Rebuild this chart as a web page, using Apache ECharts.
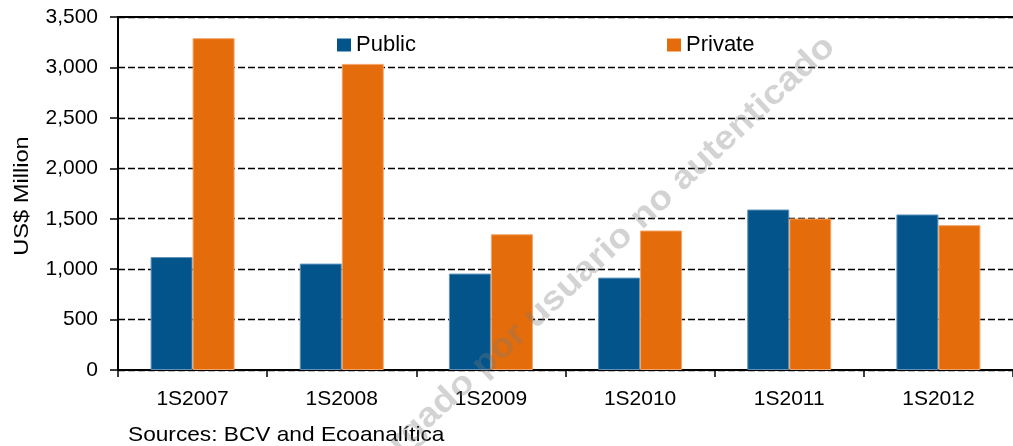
<!DOCTYPE html>
<html>
<head>
<meta charset="utf-8">
<script src="https://cdn.jsdelivr.net/npm/echarts@6/dist/echarts.min.js"></script>
<style>html,body{margin:0;padding:0;background:#fff;}#c{width:1013px;height:446px;}</style>
</head>
<body>
<div id="c"></div>
<script>
const categories = ['1S2007', '1S2008', '1S2009', '1S2010', '1S2011', '1S2012'];
const publicValues = [1120, 1055, 956, 916, 1591, 1542];
const privateValues = [3290, 3035, 1346, 1383, 1502, 1436];
const seriesNames = ['Public', 'Private'];
const yAxisTitle = 'US$ Million';
const sourceText = 'Sources: BCV and Ecoanalítica';
const watermarkText = 'descargado por usuario no autenticado';

const FONT = 'Liberation Sans, Arial, sans-serif';
const chart = echarts.init(document.getElementById('c'), null, {renderer: 'canvas'});
chart.setOption({
  animation: false,
  backgroundColor: '#fff',
  grid: {left: 118, right: 0, top: 17, bottom: 76},
  legend: [
    {data: [seriesNames[0]], left: 332, top: 29, itemWidth: 14, itemHeight: 13, icon: 'rect',
     itemStyle: {borderWidth: 0},
     textStyle: {fontFamily: FONT, fontSize: 22, color: '#000'}},
    {data: [seriesNames[1]], left: 662, top: 29, itemWidth: 14, itemHeight: 13, icon: 'rect',
     itemStyle: {borderWidth: 0},
     textStyle: {fontFamily: FONT, fontSize: 22, color: '#000'}}
  ],
  xAxis: [{
    type: 'category',
    data: categories,
    axisLine: {lineStyle: {color: '#000', width: 2}},
    axisTick: {show: true, length: 7, lineStyle: {color: '#000', width: 1.5}},
    axisLabel: {fontFamily: FONT, fontSize: 21, color: '#000', margin: 19}
  }, {
    type: 'category',
    data: categories,
    position: 'top',
    axisLine: {show: true, lineStyle: {color: '#000', width: 2}},
    axisTick: {show: false},
    axisLabel: {show: false}
  }],
  yAxis: {
    type: 'value',
    min: 0, max: 3500, interval: 500,
    axisLine: {show: true, lineStyle: {color: '#000', width: 2}},
    axisTick: {show: true, length: 8, lineStyle: {color: '#000', width: 1.5}},
    axisLabel: {fontFamily: FONT, fontSize: 21, color: '#000', margin: 20,
      formatter: v => v.toLocaleString('en-US')},
    splitLine: {show: true, lineStyle: {color: '#000', type: [7, 3], width: 1.3}}
  },
  graphic: [
    {type: 'text', z: 100, x: 830, y: 42, rotation: 43 * Math.PI / 180, scaleX: 1.1,
     style: {text: watermarkText, fontFamily: FONT, fontWeight: 'bold', fontSize: 34,
       fill: 'rgba(120,120,120,0.33)', align: 'right', verticalAlign: 'middle'}},
    {type: 'text', x: 22, y: 196, rotation: Math.PI / 2, scaleX: 1.18,
     style: {text: yAxisTitle, fontFamily: FONT, fontSize: 20, fill: '#000', align: 'center', verticalAlign: 'middle'}},
    {type: 'text', x: 128, y: 435, scaleX: 1.08,
     style: {text: sourceText, fontFamily: FONT, fontSize: 21, fill: '#000', align: 'left', verticalAlign: 'middle'}}
  ],
  series: [
    {name: seriesNames[0], type: 'bar', data: publicValues, barWidth: 42, barGap: '0%',
     itemStyle: {color: '#02548A', borderColor: '#5f93bd', borderWidth: 1}},
    {name: seriesNames[1], type: 'bar', data: privateValues, barWidth: 42, barGap: '0%',
     itemStyle: {color: '#E46C0A', borderColor: '#f3a469', borderWidth: 1}}
  ]
});
</script>
</body>
</html>
